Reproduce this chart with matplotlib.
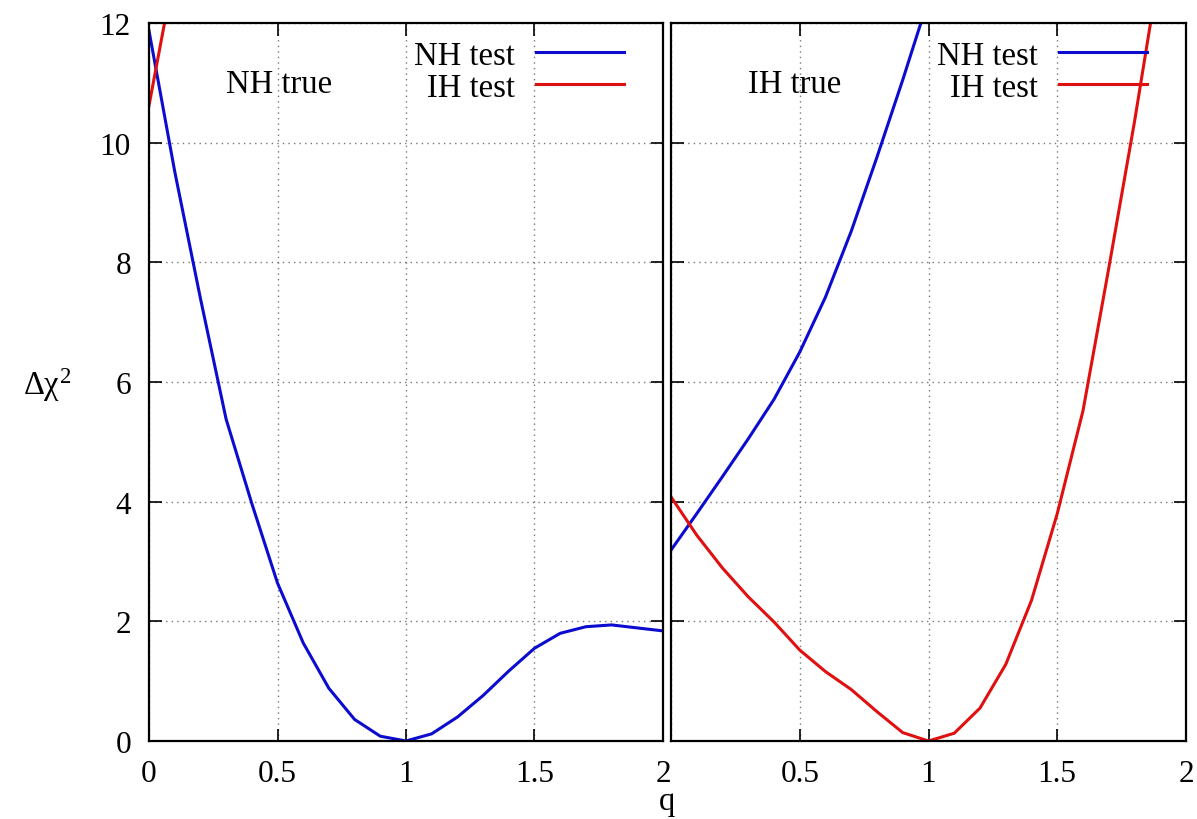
import numpy as np
import matplotlib
matplotlib.use("Agg")
import matplotlib.pyplot as plt

plt.rcParams['font.family'] = ['Liberation Serif', 'DejaVu Serif']
plt.rcParams['mathtext.fontset'] = 'custom'
plt.rcParams['mathtext.rm'] = 'Liberation Serif'
plt.rcParams['mathtext.it'] = 'Liberation Serif'

# q grid, shared by all curves
q = np.round(np.arange(0, 2.01, 0.1), 1)

# NH true
nh_true_nh_test = [11.87, 9.52, 7.40, 5.38, 3.97, 2.64, 1.64, 0.88, 0.36, 0.08, 0.0,
                   0.12, 0.40, 0.76, 1.17, 1.55, 1.80, 1.91, 1.94, 1.89, 1.84]
nh_true_ih_test_q = [0.0, 0.1]
nh_true_ih_test = [10.62, 12.9]

# IH true
ih_true_nh_test_q = [0.0, 0.1, 0.2, 0.3, 0.4, 0.5, 0.6, 0.7, 0.8, 0.9, 1.0]
ih_true_nh_test = [3.19, 3.80, 4.42, 5.05, 5.71, 6.50, 7.42, 8.52, 9.76, 11.05, 12.4]
ih_true_ih_test = [4.08, 3.44, 2.89, 2.41, 1.99, 1.52, 1.16, 0.86, 0.49, 0.14, 0.0,
                   0.13, 0.55, 1.28, 2.35, 3.80, 5.52, 7.90, 10.35, 13.0, 16.0]

blue = '#0c0cd0'
red = '#e01010'
fs = 23.5
tfs = 22.5

fig = plt.figure(figsize=(11.97, 8.2), dpi=100)
ax1 = fig.add_axes([149 / 1197, 1 - 742 / 820, 514 / 1197, 718 / 820])
ax2 = fig.add_axes([671 / 1197, 1 - 742 / 820, 515 / 1197, 718 / 820])

ax1.plot(q, nh_true_nh_test, color=blue, lw=2.2, label='NH test')
ax1.plot(nh_true_ih_test_q, nh_true_ih_test, color=red, lw=2.2, label='IH test')
ax2.plot(ih_true_nh_test_q, ih_true_nh_test, color=blue, lw=2.2, label='NH test')
ax2.plot(q, ih_true_ih_test, color=red, lw=2.2, label='IH test')

xticks = [0, 0.5, 1, 1.5, 2]
for ax in (ax1, ax2):
    ax.set_xlim(0, 2)
    ax.set_ylim(0, 12)
    ax.set_xticks(xticks)
    ax.set_yticks(range(0, 13, 2))
    ax.tick_params(direction='in', length=9, width=1.2, top=True, right=True,
                   labelsize=tfs)
    ax.tick_params(axis='x', pad=13)
    ax.tick_params(axis='y', pad=13)
    ax.grid(True, color='#777777', linestyle=(0, (1, 3)), linewidth=1.0)
    for s in ax.spines.values():
        s.set_linewidth(1.6)
    ax.legend(loc='upper right', bbox_to_anchor=(0.924, 0.976), frameon=False,
              markerfirst=False, fontsize=fs, handlelength=2.7, handletextpad=0.65,
              borderpad=0, borderaxespad=0, labelspacing=0.05)

ax1.set_xticklabels(['0', '0.5', '1', '1.5', '2'])
ax2.set_xticklabels(['', '0.5', '1', '1.5', '2'])
ax2.set_yticklabels([])

ax1.text(0.253, 0.916, 'NH true', transform=ax1.transAxes, fontsize=fs,
         ha='center', va='center')
ax2.text(0.241, 0.915, 'IH true', transform=ax2.transAxes, fontsize=fs,
         ha='center', va='center')

fig.text(47 / 1197, 1 - 385 / 820, r'$\Delta\chi^{2}$', fontsize=fs,
         ha='center', va='center')
fig.text(667 / 1197, 1 - 787 / 820, 'q', fontsize=fs, ha='center', va='top')

fig.savefig('out.png', dpi=100)
